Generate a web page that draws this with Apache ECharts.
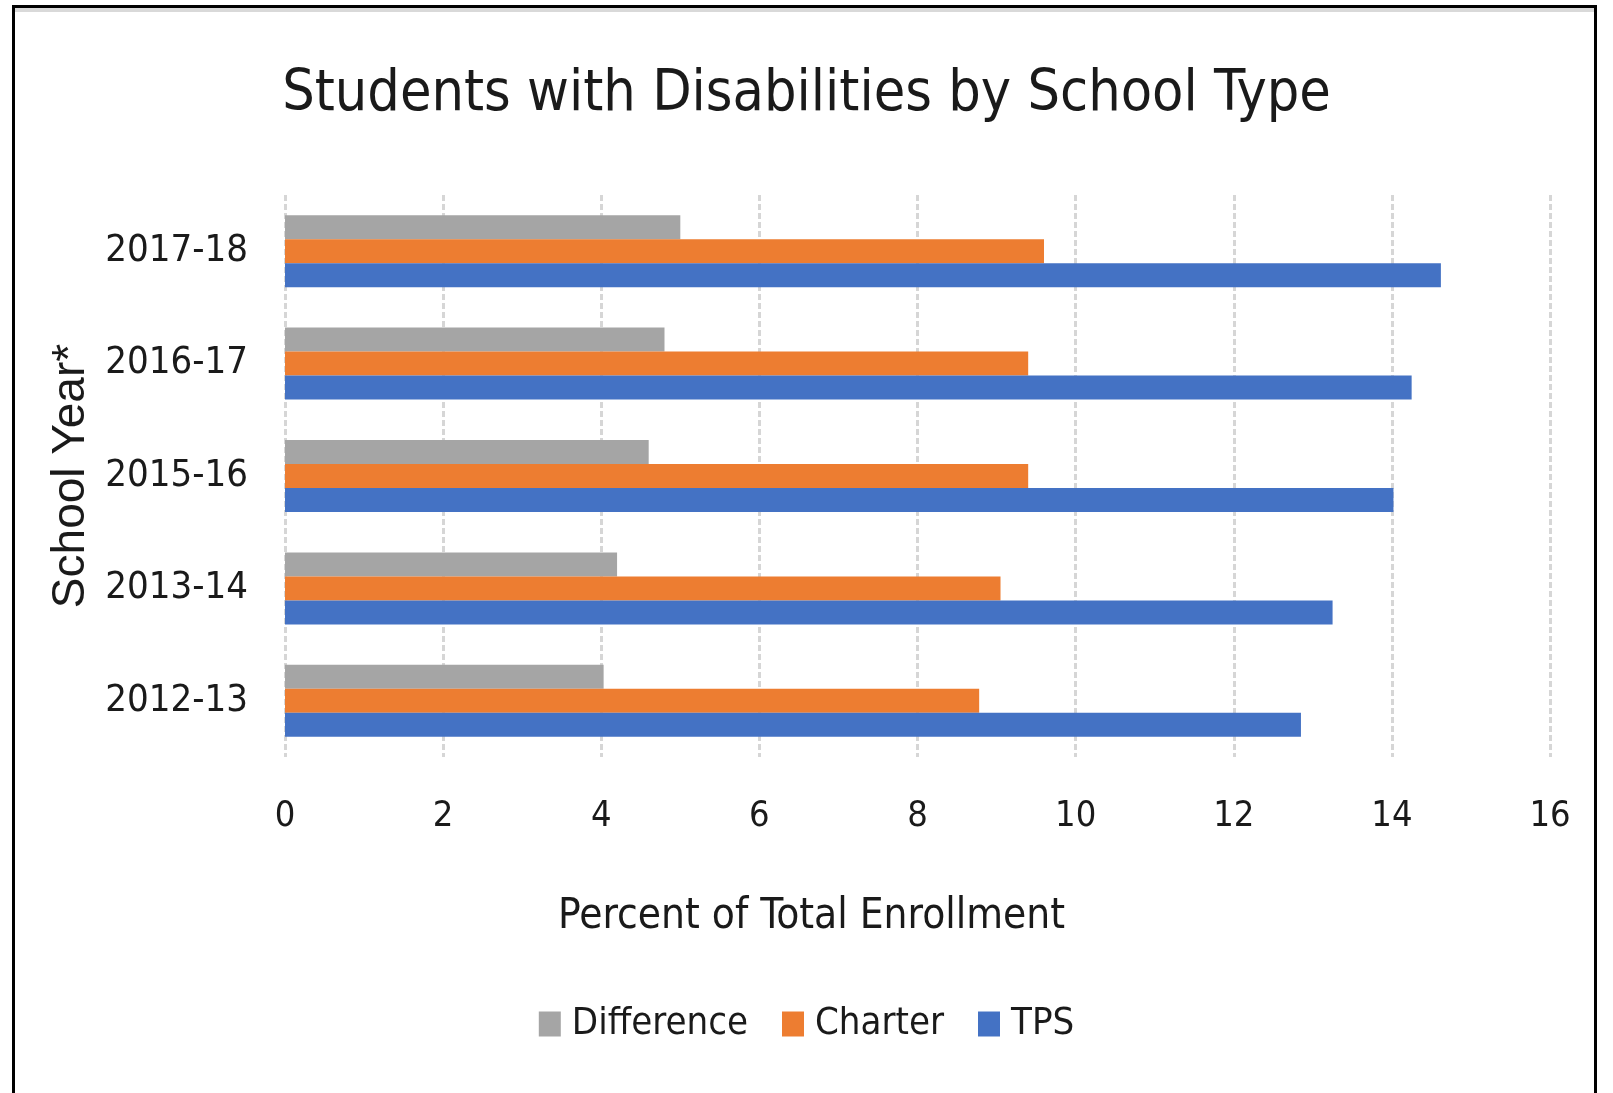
<!DOCTYPE html>
<html>
<head>
<meta charset="utf-8">
<script src="https://cdn.jsdelivr.net/npm/echarts@6/dist/echarts.min.js"></script>
<style>
html,body{margin:0;padding:0;background:#fff;}
#frame{position:absolute;left:12px;top:5px;width:1585px;height:1088px;border-left:3px solid #000;border-top:3px solid #000;border-right:3px solid #000;box-sizing:border-box;}
#frame:before{content:"";position:absolute;left:0;right:0;top:0;height:4px;background:#d9d9d9;}
#chart{position:absolute;left:0;top:0;width:1613px;height:1093px;}
</style>
</head>
<body>
<div id="frame"></div>
<div id="chart"></div>
<script>
const categories = ['2012-13', '2013-14', '2015-16', '2016-17', '2017-18'];
const differenceValues = [4.03, 4.2, 4.6, 4.8, 5.0];
const charterValues = [8.78, 9.05, 9.4, 9.4, 9.6];
const tpsValues = [12.85, 13.25, 14.02, 14.25, 14.62];
const xTicks = [0, 2, 4, 6, 8, 10, 12, 14, 16];

const narrow = "'Liberation Sans Narrow', 'DejaVu Sans Condensed', 'Arial Narrow', sans-serif";
const chart = echarts.init(document.getElementById('chart'), null, {renderer: 'canvas'});
chart.setOption({
  backgroundColor: 'transparent',
  animation: false,
  title: {
    text: 'Students with Disabilities by School Type',
    left: 'center',
    top: 62,
    textStyle: {fontFamily: narrow, fontSize: 57, fontWeight: 'normal', color: '#1a1a1a'}
  },
  legend: {
    data: ['Difference', 'Charter', 'TPS'],
    left: 'center',
    top: 1000,
    itemWidth: 22,
    itemHeight: 25,
    itemGap: 34,
    icon: 'rect',
    textStyle: {fontFamily: narrow, fontSize: 38, color: '#1a1a1a', padding: [0, 0, 0, 6]}
  },
  grid: {left: 285, top: 195, width: 1265, height: 562, containLabel: false},
  xAxis: {
    type: 'value',
    min: xTicks[0],
    max: xTicks[xTicks.length - 1],
    interval: 2,
    name: 'Percent of Total Enrollment',
    nameLocation: 'middle',
    nameGap: 139,
    nameTextStyle: {fontFamily: narrow, fontSize: 42, color: '#1a1a1a', padding: [0, 212, 0, 0]},
    axisLine: {show: false},
    axisTick: {show: false},
    axisLabel: {fontFamily: narrow, fontSize: 36, color: '#1a1a1a', margin: 42},
    splitLine: {show: true, lineStyle: {color: '#d6d6d6', width: 3, type: [6, 3]}}
  },
  yAxis: {
    type: 'category',
    data: categories,
    name: 'School Year*',
    nameLocation: 'middle',
    nameGap: 178,
    nameRotate: 90,
    nameTextStyle: {fontFamily: "'Liberation Sans', Arial, sans-serif", fontSize: 46, color: '#1a1a1a'},
    axisLine: {show: false},
    axisTick: {show: false},
    axisLabel: {fontFamily: narrow, fontSize: 38, color: '#1a1a1a', margin: 37},
    splitLine: {show: false}
  },
  series: [
    {name: 'Difference', type: 'bar', data: differenceValues, barWidth: 24, barGap: '0%',
     itemStyle: {color: '#A5A5A5'}},
    {name: 'Charter', type: 'bar', data: charterValues, barWidth: 24, barGap: '0%',
     itemStyle: {color: '#ED7D31'}},
    {name: 'TPS', type: 'bar', data: tpsValues, barWidth: 24, barGap: '0%',
     itemStyle: {color: '#4472C4'}}
  ]
});
</script>
</body>
</html>
